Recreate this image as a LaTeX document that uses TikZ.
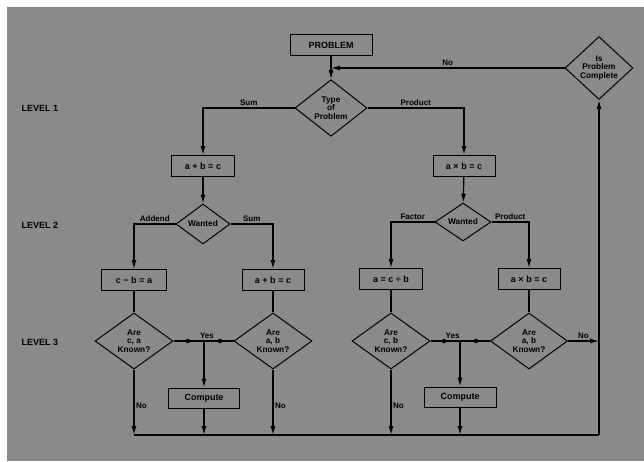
\documentclass[tikz,border=0pt]{standalone}
\usepackage{fontspec}
\setmainfont{Liberation Sans}
\usetikzlibrary{shapes.geometric,arrows.meta,decorations.markings}
\definecolor{scangray}{RGB}{138,138,138}
\begin{document}
\begin{tikzpicture}[x=1pt, y=-1pt,
  >={Latex[length=9pt,width=5pt]},
  every node/.style={font=\fontsize{9}{9.5}\selectfont\bfseries},
  box/.style={draw, line width=1pt, inner sep=2pt, minimum height=21pt},
  decide/.style={diamond, draw, line width=1pt, inner sep=0pt, align=center, font=\fontsize{8.3}{8.8}\selectfont\bfseries},
  conn/.style={line width=1.2pt},
  midarr/.style={postaction={decorate}, decoration={markings, mark=at position 0.72 with {\arrow{>}}}},
  lab/.style={font=\fontsize{8}{8.5}\selectfont\bfseries, inner sep=1.5pt}]
\useasboundingbox (0,0) rectangle (644,461);
\fill[scangray] (7,7) rectangle (644,461);
% Niveaux
\node[anchor=west] (lev1) at (18,108) {LEVEL 1};
\node[anchor=west] (lev2) at (18,225) {LEVEL 2};
\node[anchor=west] (lev3) at (18,342) {LEVEL 3};
% Haut
\node[box, minimum width=82pt] (prob) at (331,45) {PROBLEM};
\node[decide, minimum width=72pt, minimum height=55pt] (type) at (331,108) {Type\\of\\Problem};
\node[decide, minimum width=68pt, minimum height=53pt] (done) at (599,68) {Is\\Problem\\Complete};
% Niveau 2
\node[box, minimum width=63pt] (sumbox) at (203,166) {a + b = c};
\node[box, minimum width=62pt] (prodbox) at (464,166) {a × b = c};
\node[decide, minimum width=54pt, minimum height=40pt] (wantS) at (203,224) {Wanted};
\node[decide, minimum width=56pt, minimum height=38pt] (wantP) at (463,222) {Wanted};
% Niveau 3
\node[box, minimum width=65pt] (addbox) at (134,280) {c − b = a};
\node[box, minimum width=62pt] (sumbox2) at (273,280) {a + b = c};
\node[box, minimum width=63pt] (facbox) at (391,279) {a = c ÷ b};
\node[box, minimum width=62pt] (prodbox2) at (529,279) {a × b = c};
\node[decide, minimum width=78pt, minimum height=53pt] (areA) at (134,341) {Are\\c, a\\Known?};
\node[decide, minimum width=78pt, minimum height=53pt] (areB) at (273,341) {Are\\a, b\\Known?};
\node[decide, minimum width=78pt, minimum height=55pt] (areC) at (391,341) {Are\\c, b\\Known?};
\node[decide, minimum width=77pt, minimum height=55pt] (areD) at (529,341) {Are\\a, b\\Known?};
\node[box, minimum width=71pt, minimum height=20pt] (comp1) at (204,398) {Compute};
\node[box, minimum width=72pt, minimum height=20pt] (comp2) at (460,397) {Compute};
\coordinate (yes1) at (204,341);
\coordinate (yes2) at (460,341);
\coordinate (rb) at (599,435);
% Connecteurs
\draw[conn, ->] (prob) -- (type);
\draw[conn, ->] (done.west) -- (done.west -| prob.south) node[lab, midway, above]{No};
\draw[conn, ->] (type.west) -| (sumbox.north) node[lab, pos=0.25, above]{Sum};
\draw[conn, ->] (type.east) -| (prodbox.north) node[lab, pos=0.25, above]{Product};
\draw[conn, ->] (sumbox) -- (wantS);
\draw[conn, ->] (prodbox) -- (wantP);
\draw[conn, ->] (wantS.west) -| (addbox.north) node[lab, pos=0.25, above]{Addend};
\draw[conn, ->] (wantS.east) -| (sumbox2.north) node[lab, pos=0.25, above]{Sum};
\draw[conn, ->] (wantP.west) -| (facbox.north) node[lab, pos=0.25, above]{Factor};
\draw[conn, ->] (wantP.east) -| (prodbox2.north) node[lab, pos=0.25, above]{Product};
\draw[conn] (addbox) -- (areA);
\draw[conn] (sumbox2) -- (areB);
\draw[conn] (facbox) -- (areC);
\draw[conn] (prodbox2) -- (areD);
% Yes
\draw[conn, midarr] (areA.east) -- (yes1);
\draw[conn, midarr] (areB.west) -- (yes1) node[lab, pos=0.9, above]{Yes};
\draw[conn, ->] (yes1) -- (comp1.north);
\draw[conn, midarr] (areC.east) -- (yes2) node[lab, pos=0.75, above]{Yes};
\draw[conn, midarr] (areD.west) -- (yes2);
\draw[conn, ->] (yes2) -- (comp2.north);
% No
\draw[conn, ->] (areA.south) -- (areA.south |- rb) node[lab, pos=0.55, right]{No};
\draw[conn, ->] (areB.south) -- (areB.south |- rb) node[lab, pos=0.55, right]{No};
\draw[conn, ->] (areC.south) -- (areC.south |- rb) node[lab, pos=0.55, right]{No};
\draw[conn, ->] (areD.east) -- (areD.east -| rb) node[lab, midway, above]{No};
\draw[conn, ->] (comp1.south) -- (comp1.south |- rb);
\draw[conn, ->] (comp2.south) -- (comp2.south |- rb);
% Retour
\draw[conn] (areA.south |- rb) -- (rb);
\draw[conn, ->] (rb) -- (done.south);
\end{tikzpicture}
\end{document}
